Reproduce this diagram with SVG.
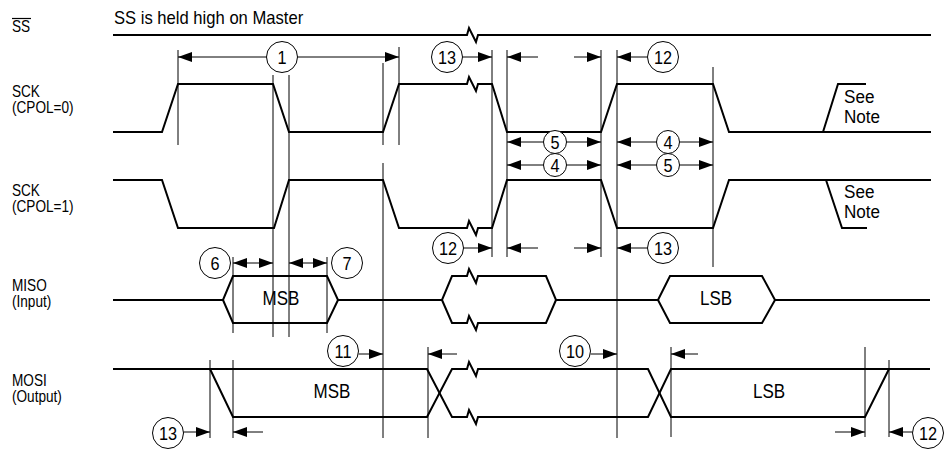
<svg xmlns="http://www.w3.org/2000/svg" width="950" height="450" viewBox="0 0 950 450">
<defs>
<marker id="ah" markerUnits="userSpaceOnUse" markerWidth="15" markerHeight="10" refX="14" refY="5" orient="auto">
<path d="M0,0 L14,5 L0,10 z" fill="#000"/>
</marker>
<style>
text{font-family:"Liberation Sans",Arial,sans-serif;fill:#000}
.lbl{font-size:16px}
.ttl{font-size:17.5px}
.data{font-size:20px;text-anchor:middle}
.note{font-size:19px}
.num{font-size:18.5px;text-anchor:middle}
.sig{fill:none;stroke:#000;stroke-width:2;stroke-linejoin:miter}
.guide{stroke:#000;stroke-width:1}
.arr{fill:none;stroke:#000;stroke-width:1;marker-end:url(#ah)}
.circ{fill:#fff;stroke:#000;stroke-width:1}
</style>
</defs>
<rect width="950" height="450" fill="#fff"/>

<g id="labels">
<text class="lbl" transform="translate(12,32) scale(0.85,1)">SS</text>
<line x1="12" y1="18.5" x2="31" y2="18.5" stroke="#000" stroke-width="1.2"/>
<text class="lbl" transform="translate(12,97) scale(0.85,1)">SCK</text>
<text class="lbl" transform="translate(12,113) scale(0.85,1)">(CPOL=0)</text>
<text class="lbl" transform="translate(12,196) scale(0.85,1)">SCK</text>
<text class="lbl" transform="translate(12,212) scale(0.85,1)">(CPOL=1)</text>
<text class="lbl" transform="translate(12,291) scale(0.85,1)">MISO</text>
<text class="lbl" transform="translate(12,307) scale(0.85,1)">(Input)</text>
<text class="lbl" transform="translate(12,386) scale(0.85,1)">MOSI</text>
<text class="lbl" transform="translate(12,402) scale(0.85,1)">(Output)</text>
<text class="ttl" transform="translate(114,23.5) scale(0.95,1)">SS is held high on Master</text>
</g>

<g id="guides">
<line class="guide" x1="178" y1="50" x2="178" y2="145"/>
<line class="guide" x1="273" y1="75" x2="273" y2="337"/>
<line class="guide" x1="289" y1="75" x2="289" y2="337"/>
<line class="guide" x1="383" y1="63" x2="383" y2="145"/>
<line class="guide" x1="383" y1="163" x2="383" y2="438"/>
<line class="guide" x1="399" y1="47" x2="399" y2="145"/>
<line class="guide" x1="233" y1="257" x2="233" y2="333"/>
<line class="guide" x1="233" y1="360" x2="233" y2="438"/>
<line class="guide" x1="327" y1="257" x2="327" y2="333"/>
<line class="guide" x1="210" y1="360" x2="210" y2="438"/>
<line class="guide" x1="428" y1="347" x2="428" y2="438"/>
<line class="guide" x1="492" y1="50" x2="492" y2="257"/>
<line class="guide" x1="507" y1="50" x2="507" y2="257"/>
<line class="guide" x1="601" y1="50" x2="601" y2="257"/>
<line class="guide" x1="617" y1="50" x2="617" y2="438"/>
<line class="guide" x1="713" y1="67" x2="713" y2="267"/>
<line class="guide" x1="671" y1="347" x2="671" y2="437"/>
<line class="guide" x1="865" y1="347" x2="865" y2="437"/>
<line class="guide" x1="889" y1="360" x2="889" y2="437"/>
</g>

<g id="signals">
<path id="ss" class="sig" d="M113,35 H467 L469,28 L476,42 L478,35 H931"/>
<path id="sck0" class="sig" d="M113,132 H162 L178,84 H273 L289,132 H383 L399,84 H467 L469,77 L476,91 L478,84 H492 L507,132 H601 L617,84 H713 L729,132 H931"/>
<path class="sig" d="M823,132 L838,84 H866"/>
<path id="sck1" class="sig" d="M113,180 H162 L178,228 H274 L289,180 H383 L399,228 H467 L469,221 L476,235 L478,228 H492 L507,180 H601 L617,228 H713 L729,180 H931"/>
<path class="sig" d="M826,180 L842,228 H867"/>
<path id="miso" class="sig" d="M113,300 H223 L233,276 H327 L338,300 H442 L452,276 H467 L469,269 L476,283 L478,276 H546 L556,300 H658 L670,276 H762 L775,300 H930"/>
<path class="sig" d="M223,300 L233,323 H327 L338,300"/>
<path class="sig" d="M442,300 L452,323 H467 L469,316 L476,330 L478,323 H546 L556,300"/>
<path class="sig" d="M658,300 L670,323 H762 L775,300"/>
<path id="mosi" class="sig" d="M113,369 H427 L452,417 H467 L469,410 L476,424 L478,417 H648 L671,369 H930"/>
<path class="sig" d="M210,369 L233,417 H427 L452,369 H467 L469,362 L476,376 L478,369 H648 L671,417 H865 L889,369"/>
<text class="data" transform="translate(281,305) scale(0.85,1)">MSB</text>
<text class="data" transform="translate(716,305) scale(0.85,1)">LSB</text>
<text class="data" transform="translate(332,398) scale(0.85,1)">MSB</text>
<text class="data" transform="translate(769,398) scale(0.85,1)">LSB</text>
<text class="note" transform="translate(844,103) scale(0.9,1)">See</text>
<text class="note" transform="translate(844,123) scale(0.9,1)">Note</text>
<text class="note" transform="translate(844,198) scale(0.9,1)">See</text>
<text class="note" transform="translate(844,218) scale(0.9,1)">Note</text>
</g>

<g id="connectors">
<path class="arr" d="M266.5,57 H178"/>
<path class="arr" d="M297.5,57 H399"/>
<path class="arr" d="M462.5,57 H492"/>
<path class="arr" d="M538,57 H507"/>
<path class="arr" d="M574,57 H601"/>
<path class="arr" d="M647.5,57 H617"/>
<path class="arr" d="M543.5,142 H507"/>
<path class="arr" d="M566.5,142 H601"/>
<path class="arr" d="M656.5,142 H617"/>
<path class="arr" d="M679.5,142 H713"/>
<path class="arr" d="M543.5,165 H507"/>
<path class="arr" d="M566.5,165 H601"/>
<path class="arr" d="M656.5,165 H617"/>
<path class="arr" d="M679.5,165 H713"/>
<path class="arr" d="M463.5,248 H492"/>
<path class="arr" d="M538,248 H507"/>
<path class="arr" d="M574,248 H601"/>
<path class="arr" d="M647.5,248 H617"/>
<path class="arr" d="M253,263 H233"/>
<path class="arr" d="M253,263 H273"/>
<path class="arr" d="M308,263 H289"/>
<path class="arr" d="M308,263 H327"/>
<path class="arr" d="M358.5,354 H383"/>
<path class="arr" d="M457,354 H428"/>
<path class="arr" d="M590.5,354 H617"/>
<path class="arr" d="M698,354 H671"/>
<path class="arr" d="M183.5,432 H210"/>
<path class="arr" d="M263,432 H233"/>
<path class="arr" d="M835,432 H865"/>
<path class="arr" d="M912.5,432 H889"/>
</g>

<g id="callouts">
<g id="c1"><circle class="circ" cx="282" cy="57" r="15.5"/><text class="num" transform="translate(282,63.5) scale(0.88,1)">1</text></g>
<g id="c13a"><circle class="circ" cx="447" cy="57" r="15.5"/><text class="num" transform="translate(447,63.5) scale(0.88,1)">13</text></g>
<g id="c12a"><circle class="circ" cx="663" cy="57" r="15.5"/><text class="num" transform="translate(663,63.5) scale(0.88,1)">12</text></g>
<g id="c5a"><circle class="circ" cx="555" cy="142" r="11.5"/><text class="num" transform="translate(555,148.5) scale(0.88,1)">5</text></g>
<g id="c4a"><circle class="circ" cx="555" cy="165" r="11.5"/><text class="num" transform="translate(555,171.5) scale(0.88,1)">4</text></g>
<g id="c4b"><circle class="circ" cx="668" cy="142" r="11.5"/><text class="num" transform="translate(668,148.5) scale(0.88,1)">4</text></g>
<g id="c5b"><circle class="circ" cx="668" cy="165" r="11.5"/><text class="num" transform="translate(668,171.5) scale(0.88,1)">5</text></g>
<g id="c12b"><circle class="circ" cx="448" cy="248" r="15.5"/><text class="num" transform="translate(448,254.5) scale(0.88,1)">12</text></g>
<g id="c13b"><circle class="circ" cx="663" cy="248" r="15.5"/><text class="num" transform="translate(663,254.5) scale(0.88,1)">13</text></g>
<g id="c6"><circle class="circ" cx="215" cy="263" r="15.5"/><text class="num" transform="translate(215,269.5) scale(0.88,1)">6</text></g>
<g id="c7"><circle class="circ" cx="347" cy="263" r="15.5"/><text class="num" transform="translate(347,269.5) scale(0.88,1)">7</text></g>
<g id="c11"><circle class="circ" cx="343" cy="351" r="15.5"/><text class="num" transform="translate(343,357.5) scale(0.88,1)">11</text></g>
<g id="c10"><circle class="circ" cx="575" cy="351" r="15.5"/><text class="num" transform="translate(575,357.5) scale(0.88,1)">10</text></g>
<g id="c13c"><circle class="circ" cx="168" cy="433" r="15.5"/><text class="num" transform="translate(168,439.5) scale(0.88,1)">13</text></g>
<g id="c12c"><circle class="circ" cx="928" cy="433" r="15.5"/><text class="num" transform="translate(928,439.5) scale(0.88,1)">12</text></g>
</g>
</svg>
